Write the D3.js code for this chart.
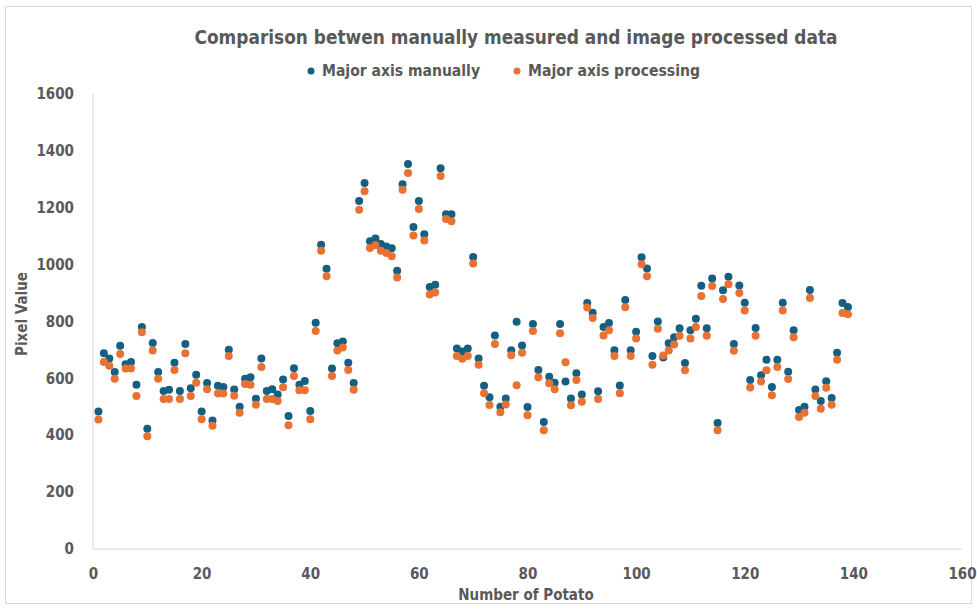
<!DOCTYPE html>
<meta charset="utf-8">
<style>
  body { margin: 0; background: #fff; }
  .axis text { font-family: "Liberation Sans Narrow", "DejaVu Sans Condensed", "Arial Narrow", sans-serif; font-size: 15px; font-weight: bold; fill: #595959; }
  .label { font-family: "Liberation Sans Narrow", "DejaVu Sans Condensed", "Arial Narrow", sans-serif; font-weight: bold; fill: #595959; }
</style>
<body>
<div id="chart"></div>
<script src="https://d3js.org/d3.v7.min.js"></script>
<script>

  var title = "Comparison betwen manually measured and image processed data";
  var seriesNames = ["Major axis manually", "Major axis processing"];
  var seriesColors = ["#156082", "#E97132"];
  var xTicks = [0, 20, 40, 60, 80, 100, 120, 140, 160];
  var yTicks = [0, 200, 400, 600, 800, 1000, 1200, 1400, 1600];

  // potato number 1..139 (index + 1)
  var manual = [
    483, 688, 669, 622, 714, 649, 657, 577, 780, 422,
    724, 622, 555, 559, 654, 555, 720, 565, 612, 483,
    583, 451, 573, 569, 700, 560, 500, 598, 603, 528,
    669, 555, 561, 543, 595, 467, 635, 577, 590, 485,
    795, 1069, 984, 634, 723, 729, 654, 583, 1222, 1286,
    1081, 1091, 1071, 1063, 1056, 977, 1281, 1352, 1131, 1222,
    1106, 920, 928, 1337, 1176, 1176, 704, 694, 704, 1026,
    669, 573, 533, 750, 500, 529, 698, 798, 715, 499,
    790, 629, 446, 605, 584, 790, 588, 529, 617, 543,
    864, 830, 554, 780, 794, 698, 574, 875, 698, 763,
    1025, 985, 678, 799, 673, 723, 744, 775, 653, 768,
    809, 925, 775, 950, 443, 909, 956, 720, 926, 865,
    594, 776, 610, 665, 569, 665, 865, 623, 768, 488,
    500, 910, 560, 520, 589, 530, 689, 864, 850
  ];

  var processing = [
    455, 657, 644, 598, 685, 634, 634, 537, 761, 396,
    697, 598, 527, 527, 629, 527, 688, 537, 584, 456,
    561, 433, 546, 546, 678, 538, 479, 580, 577, 507,
    639, 527, 527, 520, 568, 435, 608, 558, 558, 456,
    766, 1048, 958, 608, 697, 708, 629, 559, 1192, 1257,
    1057, 1067, 1048, 1040, 1028, 954, 1262, 1321, 1101, 1194,
    1084, 894, 901, 1310, 1159, 1151, 678, 668, 678, 1003,
    647, 547, 506, 720, 480, 508, 681, 575, 689, 470,
    766, 603, 417, 582, 561, 758, 656, 505, 594, 517,
    848, 811, 527, 750, 768, 678, 547, 849, 678, 739,
    1000, 958, 647, 774, 680, 697, 718, 749, 628, 739,
    780, 889, 749, 924, 417, 878, 930, 696, 899, 838,
    567, 749, 588, 628, 540, 639, 838, 597, 744, 464,
    479, 882, 537, 493, 566, 507, 665, 829, 825
  ];

  var width = 977, height = 609;

  var svg = d3.select("#chart").append("svg")
      .attr("width", width)
      .attr("height", height);

  // chart border
  svg.append("rect")
      .attr("x", 5.5).attr("y", 6.5)
      .attr("width", 966).attr("height", 597)
      .attr("fill", "#fff")
      .attr("stroke", "#d9d9d9");

  var xScale = d3.scaleLinear().domain([0, 160]).range([93, 962]);
  var yScale = d3.scaleLinear().domain([0, 1600]).range([549, 93.5]);

  // axis lines
  svg.append("line")
      .attr("x1", xScale(0)).attr("x2", xScale(0))
      .attr("y1", yScale(1600)).attr("y2", yScale(0))
      .attr("stroke", "#d9d9d9");
  svg.append("line")
      .attr("x1", xScale(0)).attr("x2", xScale(160))
      .attr("y1", yScale(0)).attr("y2", yScale(0))
      .attr("stroke", "#d9d9d9");

  var xAxis = d3.axisBottom(xScale).tickValues(xTicks).tickFormat(d3.format("d")).tickSize(0).tickPadding(19);
  var yAxis = d3.axisLeft(yScale).tickValues(yTicks).tickFormat(d3.format("d")).tickSize(0).tickPadding(19);

  svg.append("g")
      .attr("class", "x axis")
      .attr("transform", "translate(0," + yScale(0) + ")")
      .call(xAxis)
      .call(function(g) { g.select(".domain").remove(); });

  svg.append("g")
      .attr("class", "y axis")
      .attr("transform", "translate(" + xScale(0) + ",0)")
      .call(yAxis)
      .call(function(g) { g.select(".domain").remove(); });

  // points
  var series = [manual, processing];
  series.forEach(function(values, s) {
    svg.append("g").selectAll("circle")
        .data(values)
        .enter().append("circle")
        .attr("cx", function(d, i) { return xScale(i + 1); })
        .attr("cy", function(d) { return yScale(d); })
        .attr("r", 4)
        .attr("fill", seriesColors[s]);
  });

  // title
  svg.append("text")
      .attr("class", "label")
      .attr("x", 516).attr("y", 44)
      .attr("text-anchor", "middle")
      .attr("font-size", 19)
      .attr("textLength", 643)
      .attr("lengthAdjust", "spacingAndGlyphs")
      .text(title);

  // legend
  var legendX = [311, 517], legendW = [158, 172];
  seriesNames.forEach(function(name, s) {
    svg.append("circle")
        .attr("cx", legendX[s]).attr("cy", 71)
        .attr("r", 3.5)
        .attr("fill", seriesColors[s]);
    svg.append("text")
        .attr("class", "label")
        .attr("x", legendX[s] + 11).attr("y", 76)
        .attr("font-size", 15)
        .attr("textLength", legendW[s])
        .attr("lengthAdjust", "spacingAndGlyphs")
        .text(name);
  });

  // axis titles
  svg.append("text")
      .attr("class", "label")
      .attr("transform", "translate(27,314) rotate(-90)")
      .attr("text-anchor", "middle")
      .attr("font-size", 15)
      .text("Pixel Value");

  svg.append("text")
      .attr("class", "label")
      .attr("x", 526).attr("y", 600)
      .attr("text-anchor", "middle")
      .attr("font-size", 15)
      .text("Number of Potato");

</script>
</body>
